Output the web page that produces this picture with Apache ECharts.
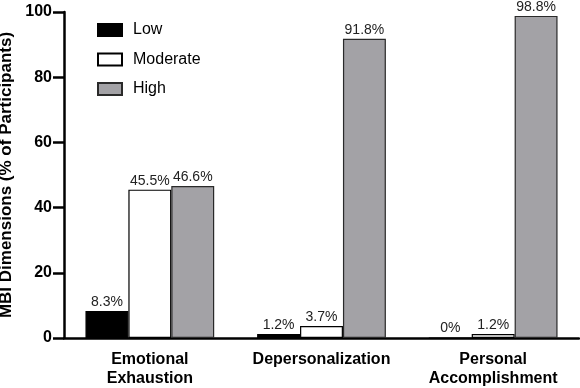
<!DOCTYPE html>
<html><head><meta charset="utf-8">
<script src="https://cdn.jsdelivr.net/npm/echarts@6/dist/echarts.min.js"></script>
<style>html,body{margin:0;padding:0;background:#fff}#c{width:580px;height:388px}</style>
</head><body><div id="c"></div>
<script>
const categories = ['Emotional\nExhaustion', 'Depersonalization', 'Personal\nAccomplishment'];
const seriesNames = ['Low', 'Moderate', 'High'];
const lowValues = [8.3, 1.2, 0];
const moderateValues = [45.5, 3.7, 1.2];
const highValues = [46.6, 91.8, 98.8];
const yTicks = [0, 20, 40, 60, 80, 100];

const font = '"Liberation Sans", Arial, sans-serif';
const fills = ['#000000', '#ffffff', '#a3a2a6'];
const borders = ['#000000', '#000000', '#2a2a2a'];
const data = [lowValues, moderateValues, highValues];

const chart = echarts.init(document.getElementById('c'), null, {renderer: 'canvas'});
chart.setOption({
  animation: false,
  textStyle: {fontFamily: font},
  grid: {left: 64, right: 1, top: 12, bottom: 50, containLabel: false, outerBoundsMode: 'none'},
  legend: {
    orient: 'vertical', left: 92, top: 17, itemWidth: 24, itemHeight: 12, itemGap: 13.5,
    icon: 'rect',
    textStyle: {fontFamily: font, fontSize: 16, color: '#000', padding: [0, 0, 0, 6]},
    data: seriesNames
  },
  xAxis: {
    type: 'category', data: categories,
    axisLine: {lineStyle: {color: '#000', width: 2.5}},
    axisTick: {alignWithLabel: true, length: 9, lineStyle: {color: '#000', width: 2.5}},
    axisLabel: {fontFamily: font, fontWeight: 'bold', fontSize: 16, color: '#000', lineHeight: 19, margin: 12, interval: 0}
  },
  yAxis: {
    type: 'value', min: yTicks[0], max: yTicks[yTicks.length - 1], interval: 20,
    name: 'MBI Dimensions (% of Participants)', nameLocation: 'middle', nameGap: 42,
    nameTextStyle: {fontFamily: font, fontWeight: 'bold', fontSize: 17, color: '#000'},
    axisLine: {show: true, lineStyle: {color: '#000', width: 2.5}},
    axisTick: {show: true, length: 11, lineStyle: {color: '#000', width: 2.5}},
    axisLabel: {fontFamily: font, fontWeight: 'bold', fontSize: 16, color: '#000', margin: 12},
    splitLine: {show: false}
  },
  series: seriesNames.map((n, i) => ({
    name: n, type: 'bar', data: data[i],
    barGap: '0%', barCategoryGap: '25%',
    itemStyle: {color: fills[i], borderColor: borders[i], borderWidth: 1.2},
    label: {show: true, position: 'top', distance: 2, formatter: p => p.value + '%',
      fontFamily: font, fontSize: 14, color: '#222'}
  }))
});
</script></body></html>
